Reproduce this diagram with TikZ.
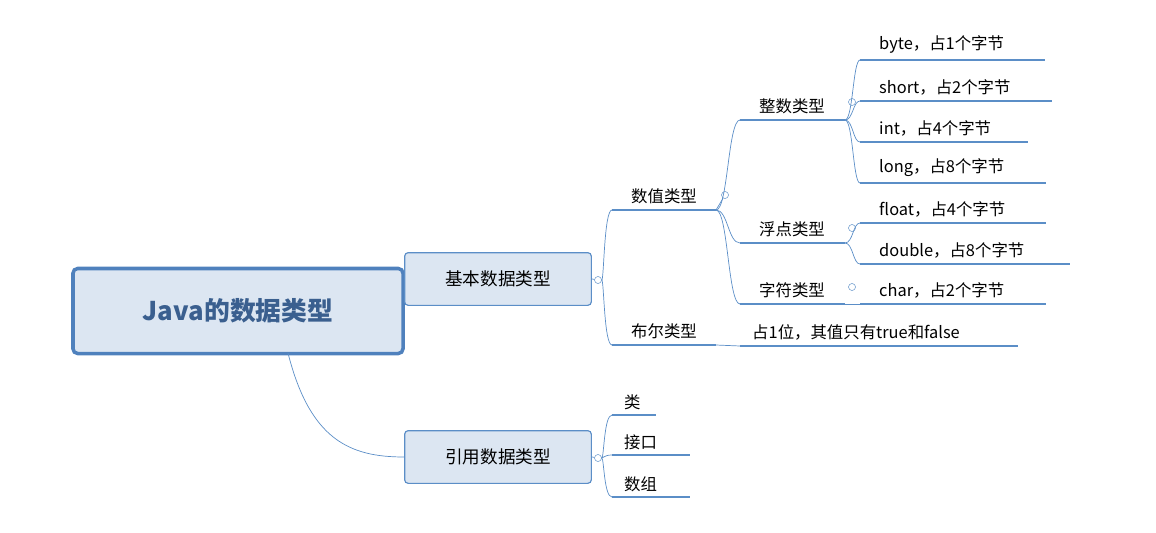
\documentclass[tikz,border=0pt]{standalone}
\usepackage{fontspec}
\setmainfont{Noto Sans CJK SC}
\usetikzlibrary{positioning, calc}
\definecolor{lineblue}{HTML}{5B8EC7}
\definecolor{boxfill}{HTML}{DCE6F2}
\definecolor{rootblue}{HTML}{4F81BD}
\definecolor{roottext}{HTML}{3A5F8F}
\tikzset{
  box/.style={draw=lineblue, fill=boxfill, rounded corners=3pt, line width=1pt, minimum width=5.6cm, minimum height=1.58cm, font=\fontsize{15}{18}\selectfont},
  lbl/.style={font=\fontsize{14}{17}\selectfont, inner sep=0pt},
  br/.style={draw=lineblue, line width=0.6pt},
  ul/.style={draw=lineblue, line width=1.6pt},
  knob/.style={circle, draw=lineblue, fill=white, inner sep=0pt, minimum size=6pt, line width=0.4pt}
}
\begin{document}
\begin{tikzpicture}[x=0.03cm, y=-0.03cm]
\useasboundingbox (0,0) rectangle (1156,532);
% root and first level
\node[draw=rootblue, fill=boxfill, line width=3pt, rounded corners=4pt, minimum width=9.9cm, minimum height=2.55cm, font=\fontsize{22}{26}\selectfont\bfseries, text=roottext] (root) at (238,311) {Java的数据类型};
\node[box] (basic) at (498,279) {基本数据类型};
\node[box] (ref) at (498,457) {引用数据类型};
\draw[br] (root.east |- basic) -- (basic.west);
\draw[br] (288,353) .. controls (310,440) and (350,457) .. (ref.west);
% knobs
\node[knob] (kb) at (598,280) {};
\node[knob] (kr) at (598,458) {};
\node[knob] (kn) at (725,195) {};
\node[knob] (ki) at (852,102) {};
\node[knob] (kf) at (852,228) {};
\node[knob] (kc) at (852,287) {};
% second level
\coordinate (numS) at (612,210); \coordinate (numE) at (716,210);
\coordinate (boolS) at (612,345); \coordinate (boolE) at (716,345);
\node[lbl, anchor=south] (num) at ($(numS)!0.5!(numE)+(0,-6)$) {数值类型};
\node[lbl, anchor=south] (bool) at ($(boolS)!0.5!(boolE)+(0,-6)$) {布尔类型};
\draw[ul] (numS) -- (numE);
\draw[ul] (boolS) -- (boolE);
\draw[br] (basic.east) -- (kb);
\draw[br] (kb) .. controls (604,280) and (604,210) .. (numS);
\draw[br] (kb) .. controls (604,280) and (604,345) .. (boolS);
% reference types
\foreach \n/\t/\y/\e in {cls/类/415/656, ifc/接口/455/690, arr/数组/497/690}{
  \draw[ul] (612,\y) -- (\e,\y);
  \node[lbl, anchor=south west] (\n) at (624,\y-5) {\t};
  \draw[br] (kr) .. controls (604,458) and (604,\y) .. (612,\y);
}
\draw[br] (ref.east) -- (kr);
% third level
\foreach \n/\t/\y/\k in {int/整数类型/120/ki, flt/浮点类型/243/kf, chr/字符类型/304/kc}{
  \draw[ul] (740,\y) -- (845,\y);
  \node[lbl, anchor=south] (\n) at (792,\y-6) {\t};
  \draw[br] (numE) .. controls (728,210) and (728,\y) .. (740,\y);
}
\draw[br] (numE) -- (kn);
% leaves
\foreach \t/\y/\e/\p in {byte，占1个字节/60/1045/120, short，占2个字节/101/1052/120, int，占4个字节/142/1028/120, long，占8个字节/183/1046/120, float，占4个字节/223/1046/243, double，占8个字节/264/1070/243, char，占2个字节/304/1046/304}{
  \draw[ul] (860,\y) -- (\e,\y);
  \node[lbl, anchor=south west] at (879,\y-6) {\t};
  \draw[br] (845,\p) .. controls (853,\p) and (853,\y) .. (860,\y);
}
\draw[ul] (740,346) -- (1018,346);
\node[lbl, anchor=south west] (boolv) at (752,340) {占1位，其值只有true和false};
\draw[br] (boolE) -- (740,346);
\end{tikzpicture}
\end{document}
